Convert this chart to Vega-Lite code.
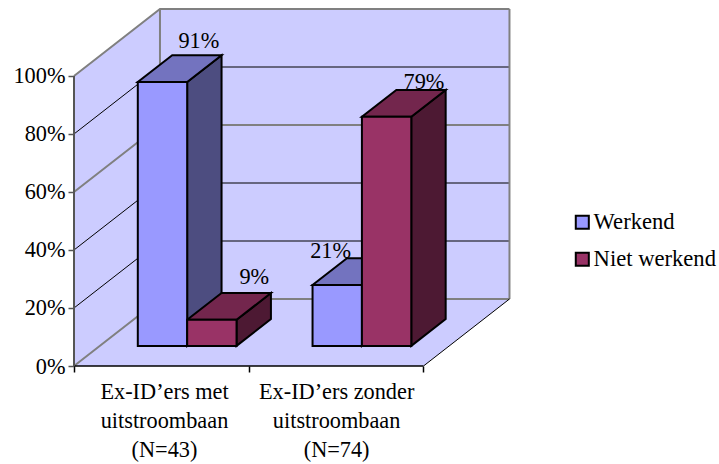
{
"$schema":"https://vega.github.io/schema/vega-lite/v6.json",
"width":436,"height":357,
"autosize":"none",
"padding":{"left":74,"top":9,"right":209,"bottom":98},
"background":"white",
"config":{"view":{"stroke":null},"font":"Liberation Serif"},
"datasets":{
"bars":[
{"groep":"met","reeks":"Werkend","waarde":91},
{"groep":"met","reeks":"Niet werkend","waarde":9},
{"groep":"zonder","reeks":"Werkend","waarde":21},
{"groep":"zonder","reeks":"Niet werkend","waarde":79}
],
"grid":[{"pct":0},{"pct":20},{"pct":40},{"pct":60},{"pct":80},{"pct":100}],
"ends":[{"t":0},{"t":1}],
"edges":[{"rand":"achter links"},{"rand":"achter rechts"},{"rand":"vloer rechts"},{"rand":"vloer voor"},{"rand":"as links"}]
},
"encoding":{
"x":{"field":"gx","type":"quantitative","stack":null,"title":null,"scale":{"domain":[0,2.495],"nice":false,"zero":false},
"axis":{"values":[0,0.515,1,1.5,2],"domain":false,"grid":false,"tickSize":6,"tickWidth":1.5,
"tickColor":{"condition":{"test":"datum.value==0.515||datum.value==1.5","value":"transparent"},"value":"#000"},
"labelExpr":"datum.value==0.515?['Ex-ID’ers met','uitstroombaan','(N=43)']:datum.value==1.5?['Ex-ID’ers zonder','uitstroombaan','(N=74)']:''",
"labelFont":"Liberation Serif","labelFontSize":22.3,"labelColor":"#000","labelLineHeight":29,"labelPadding":8,"labelOverlap":false,"labelBound":false,"labelFlush":false,"labelAngle":0}},
"y":{"field":"gy","type":"quantitative","stack":null,"title":null,"scale":{"domain":[0,123.1],"nice":false,"zero":false},
"axis":{"values":[0,20,40,60,80,100],"domain":false,"grid":false,"tickSize":6,"tickWidth":1.5,"tickColor":"#555",
"labelExpr":"datum.value+'%'","labelFont":"Liberation Serif","labelFontSize":22.3,"labelColor":"#000","labelPadding":3,"labelOverlap":false,"labelBound":false}}
},
"layer":[
{"data":{"name":"ends"},
"transform":[{"calculate":"datum.t*0.492","as":"gx"},{"calculate":"datum.t*23.1","as":"gy"},{"calculate":"100+datum.t*23.1","as":"gy2"}],
"mark":{"type":"area","fill":"#CCCCFF"},
"encoding":{"y2":{"field":"gy2"}}},
{"data":{"name":"ends"},
"transform":[{"calculate":"0.492+datum.t*2","as":"gx"},{"calculate":"23.1","as":"gy"},{"calculate":"123.1","as":"gy2"}],
"mark":{"type":"area","fill":"#CCCCFF"},
"encoding":{"y2":{"field":"gy2"}}},
{"data":{"name":"ends"},
"transform":[{"calculate":"datum.t*0.492","as":"gx"},{"calculate":"2+datum.t*0.492","as":"gx2"},{"calculate":"datum.t*23.1","as":"gy"}],
"mark":{"type":"area","fill":"#CCCCFF","orient":"horizontal"},
"encoding":{"x2":{"field":"gx2"}}},
{"data":{"name":"grid"},
"transform":[{"calculate":"[0,0.492,2.492]","as":"xs"},{"flatten":["xs"]},{"calculate":"datum.xs","as":"gx"},
{"calculate":"datum.pct+(datum.xs>0?23.1:0)","as":"gy"},
{"calculate":"(datum.pct==80||datum.pct==40||datum.pct==20)?'#000000':'#808080'","as":"kleur"},
{"calculate":"(datum.pct==80||datum.pct==40||datum.pct==20)?1:2","as":"dikte"}],
"mark":{"type":"line"},
"encoding":{"detail":{"field":"pct"},"stroke":{"field":"kleur","type":"nominal","scale":null,"legend":null},"strokeWidth":{"field":"dikte","type":"quantitative","scale":null,"legend":null}}},
{"data":{"name":"edges"},
"transform":[
{"calculate":"datum.rand=='achter links'?0.492:datum.rand=='achter rechts'?2.492:datum.rand=='vloer rechts'?2:0","as":"gx"},
{"calculate":"datum.rand=='vloer rechts'?2.492:datum.rand=='vloer voor'?2:datum.gx","as":"gx2"},
{"calculate":"datum.rand=='achter links'||datum.rand=='achter rechts'?23.1:0","as":"gy"},
{"calculate":"datum.rand=='achter links'||datum.rand=='achter rechts'?123.1:datum.rand=='vloer rechts'?23.1:datum.rand=='as links'?100:0","as":"gy2"},
{"calculate":"datum.rand=='vloer rechts'||datum.rand=='vloer voor'?'#000000':datum.rand=='as links'?'#555555':'#808080'","as":"kleur"},
{"calculate":"datum.rand=='vloer rechts'?1:datum.rand=='vloer voor'?1.5:2","as":"dikte"}],
"mark":{"type":"rule"},
"encoding":{"x2":{"field":"gx2"},"y2":{"field":"gy2"},"stroke":{"field":"kleur","type":"nominal","scale":null,"legend":null},"strokeWidth":{"field":"dikte","type":"quantitative","scale":null,"legend":null}}},
{"data":{"name":"bars"},
"transform":[
{"calculate":"(datum.groep=='met'?0:1)+0.2175+(datum.reeks=='Werkend'?0:0.2825)","as":"a"},
{"calculate":"datum.a+0.2825","as":"b"},
{"calculate":"datum.groep+datum.reeks","as":"staaf"}],
"layer":[
{"transform":[{"calculate":"[0,1]","as":"t"},{"flatten":["t"]},{"calculate":"0.3+0.4*datum.t","as":"dep"},
{"calculate":"datum.b+datum.dep*0.492","as":"gx"},{"calculate":"datum.dep*23.1","as":"gy"},{"calculate":"datum.waarde+datum.dep*23.1","as":"gy2"},
{"calculate":"datum.reeks=='Werkend'?'#4D4D80':'#4D1933'","as":"kleur"}],
"mark":{"type":"area","stroke":"#000000","strokeWidth":2},
"encoding":{"y2":{"field":"gy2"},"detail":{"field":"staaf"},"fill":{"field":"kleur","type":"nominal","scale":null,"legend":null}}},
{"transform":[{"calculate":"[0,1]","as":"t"},{"flatten":["t"]},{"calculate":"0.3+0.4*datum.t","as":"dep"},
{"calculate":"datum.a+datum.dep*0.492","as":"gx"},{"calculate":"datum.b+datum.dep*0.492","as":"gx2"},{"calculate":"datum.waarde+datum.dep*23.1","as":"gy"},
{"calculate":"datum.reeks=='Werkend'?'#7373BF':'#73264D'","as":"kleur"}],
"mark":{"type":"area","orient":"horizontal","stroke":"#000000","strokeWidth":2},
"encoding":{"x2":{"field":"gx2"},"detail":{"field":"staaf"},"fill":{"field":"kleur","type":"nominal","scale":null,"legend":null}}},
{"transform":[{"calculate":"datum.a+0.3*0.492","as":"gx"},{"calculate":"datum.b+0.3*0.492","as":"gx2"},{"calculate":"0.3*23.1","as":"gy"},{"calculate":"datum.waarde+0.3*23.1","as":"gy2"}],
"mark":{"type":"rect","stroke":"#000000","strokeWidth":2},
"encoding":{"x2":{"field":"gx2"},"y2":{"field":"gy2"},
"color":{"field":"reeks","type":"nominal","scale":{"domain":["Werkend","Niet werkend"],"range":["#9999FF","#993366"]},
"legend":{"orient":"none","legendX":497,"legendY":202,"title":null,"symbolType":"square","symbolSize":170,"symbolStrokeColor":"#000000","symbolStrokeWidth":2,"symbolOpacity":1,"labelFont":"Liberation Serif","labelFontSize":22.6,"labelColor":"#000","rowPadding":14,"labelOffset":0}}}},
{"transform":[
{"calculate":"datum.waarde==91?2:datum.waarde==9?8:datum.waarde==21?-41:3","as":"ox"},
{"calculate":"datum.waarde==91?14:datum.waarde==9?16:datum.waarde==21?7:8","as":"oy"},
{"calculate":"(datum.a+datum.b)/2+0.7*0.492+datum.ox/174.75","as":"gx"},
{"calculate":"datum.waarde+0.7*23.1+datum.oy/2.9","as":"gy"},
{"calculate":"datum.waarde+'%'","as":"tekst"}],
"mark":{"type":"text","font":"Liberation Serif","fontSize":22.3,"color":"#000","baseline":"middle","align":"center"},
"encoding":{"text":{"field":"tekst"}}}
]}
]
}
